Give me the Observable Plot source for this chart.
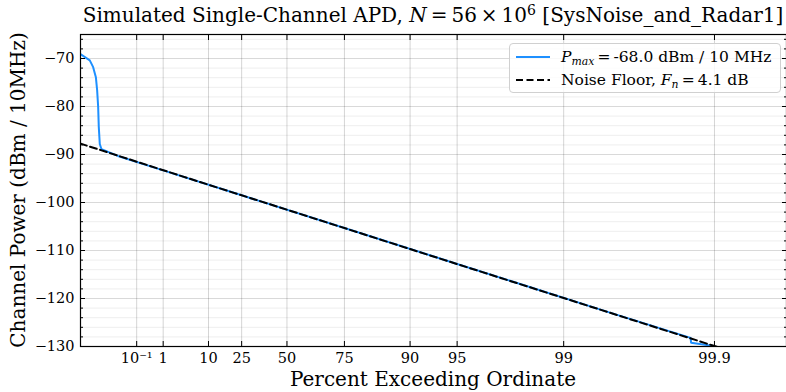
<!DOCTYPE html>
<html><head><meta charset="utf-8">
<script src="https://cdn.jsdelivr.net/npm/d3@7"></script>
<script src="https://cdn.jsdelivr.net/npm/@observablehq/plot@0.6"></script>
<style>
body{margin:0;background:#fff;}
#wrap{position:relative;width:786px;height:392px;font-family:"DejaVu Serif",serif;overflow:hidden;color:#000}
#wrap > svg{position:absolute;left:0;top:0}
.title{position:absolute;top:3px;left:80px;width:706px;text-align:center;font-size:20px;white-space:nowrap;line-height:24px}
.xlab{position:absolute;top:369px;left:80px;width:706px;text-align:center;font-size:20px;white-space:nowrap;line-height:20px}
.ylab{position:absolute;left:18px;top:190px;transform:translate(-50%,-50%) rotate(-90deg);font-size:20px;white-space:nowrap;line-height:24px}
.legend{position:absolute;left:509px;top:43px;width:272px;height:50px;border:1px solid #d0d0d0;border-radius:4px;background:rgba(255,255,255,0.8);font-size:15.5px;box-sizing:border-box}
.entry{position:absolute;left:6px;height:22px;display:flex;align-items:center;white-space:nowrap}
.entry svg{display:block;margin-right:11px}
i{font-style:italic}
sup{font-size:70%;vertical-align:0;position:relative;top:-0.5em}
sub{font-size:70%;vertical-align:0;position:relative;top:0.3em}
</style></head>
<body>
<div id="wrap"></div>
<script>
// Data (percent exceeding ordinate, dBm / 10 MHz)
const bluePct = [7.3e-6, 7.1e-5, 1.45e-4, 2.5e-4, 3.2e-4, 3.9e-4, 4.4e-4, 5.3e-4, 7.2e-4, 0.01, 1, 25, 75, 95, 99.5, 99.856, 99.857, 99.8985];
const blueDb  = [-69.0, -70.4, -71.8, -73.9, -76.6, -80.1, -84.3, -87.8, -88.9, -90.3, -93.3, -98.5, -105.3, -112.8, -122.9, -128.2, -129.2, -129.9];
const noisePct = [7.3e-6, 0.1, 10, 50, 90, 99, 99.9, 99.95];
const noiseDb  = [-87.7, -91.5, -96.3, -101.5, -109.7, -119.9, -129.9, -132.9];
const tickPct = [0.1, 1, 10, 25, 50, 75, 90, 95, 99, 99.9];
const tickLabels = ["10\u207B\u00B9", "1", "10", "25", "50", "75", "90", "95", "99", "99.9"];
const yMajor = [-130, -120, -110, -100, -90, -80, -70];
const yMinor = [-128,-126,-124,-122,-118,-116,-114,-112,-108,-106,-104,-102,-98,-96,-94,-92,-88,-86,-84,-82,-78,-76,-74,-72,-68,-66];
const yLabels = ["\u2212130","\u2212120","\u2212110","\u2212100","\u221290","\u221280","\u221270"];
const xDomainPct = [8.19e-6, 99.96677];
const yDomain = [-130, -65];

// APD probability-paper transform
const tr = p => -Math.log10(-Math.log(p / 100));
const blue = bluePct.map((p, i) => ({x: tr(p), y: blueDb[i]}));
const noise = noisePct.map((p, i) => ({x: tr(p), y: noiseDb[i]}));
const tickT = tickPct.map(tr);
const fmtX = d => tickLabels[tickT.findIndex(v => Math.abs(v - d) < 1e-9)];
const fmtY = d => yLabels[yMajor.indexOf(d)];

const chart = Plot.plot({
  width: 786, height: 392,
  marginLeft: 80, marginRight: 0, marginTop: 34, marginBottom: 46,
  x: {domain: xDomainPct.map(tr)},
  y: {domain: yDomain},
  style: {fontFamily: "DejaVu Serif", fontSize: "14px", color: "#000", background: "transparent"},
  marks: [
    Plot.gridY(yMinor, {stroke: "#000", strokeOpacity: 0.07}),
    Plot.gridY(yMajor, {stroke: "#000", strokeOpacity: 0.15}),
    Plot.gridX(tickT, {stroke: "#000", strokeOpacity: 0.17}),
    Plot.line(blue, {x: "x", y: "y", stroke: "#1E90FF", strokeWidth: 2, clip: true}),
    Plot.line(noise, {x: "x", y: "y", stroke: "#000", strokeWidth: 2, strokeDasharray: "7,3.5", clip: true}),
    Plot.axisX(tickT, {anchor: "bottom", tickSize: 0, tickPadding: 6, tickFormat: fmtX, label: null, fontSize: 14.5}),
    Plot.axisX(tickT, {anchor: "bottom", tickSize: -5, text: null, label: null}),
    Plot.axisX(tickT, {anchor: "top", tickSize: -5, text: null, label: null}),
    Plot.axisY(yMajor, {anchor: "left", tickSize: 0, tickPadding: 6, tickFormat: fmtY, label: null, fontSize: 14.5}),
    Plot.axisY(yMajor, {anchor: "left", tickSize: -5, text: null, label: null}),
    Plot.axisY(yMinor, {anchor: "left", tickSize: -3, text: null, label: null}),
    Plot.axisY(yMajor, {anchor: "right", tickSize: -5, text: null, label: null}),
    Plot.axisY(yMinor, {anchor: "right", tickSize: -3, text: null, label: null}),
    Plot.frame({stroke: "#000", strokeWidth: 1.2})
  ]
});

const wrap = document.getElementById("wrap");
wrap.appendChild(chart);
wrap.insertAdjacentHTML("beforeend", `
<div class="title">Simulated Single-Channel APD, <i>N</i>\u2009=\u200956\u2009\u00D7\u200910<sup>6</sup> [SysNoise_and_Radar1]</div>
<div class="xlab">Percent Exceeding Ordinate</div>
<div class="ylab">Channel Power (dBm / 10MHz)</div>
<div class="legend">
  <div class="entry" style="top:2px"><svg width="34" height="4"><line x1="0" y1="2" x2="34" y2="2" stroke="#1E90FF" stroke-width="2"/></svg><span><i>P</i><sub><i>max</i></sub>\u2009=\u2009-68.0 dBm / 10 MHz</span></div>
  <div class="entry" style="top:25px"><svg width="34" height="4"><line x1="0" y1="2" x2="34" y2="2" stroke="#000" stroke-width="2" stroke-dasharray="7,3.5"/></svg><span>Noise Floor, <i>F</i><sub><i>n</i></sub>\u2009=\u20094.1 dB</span></div>
</div>`);
</script>
</body></html>
